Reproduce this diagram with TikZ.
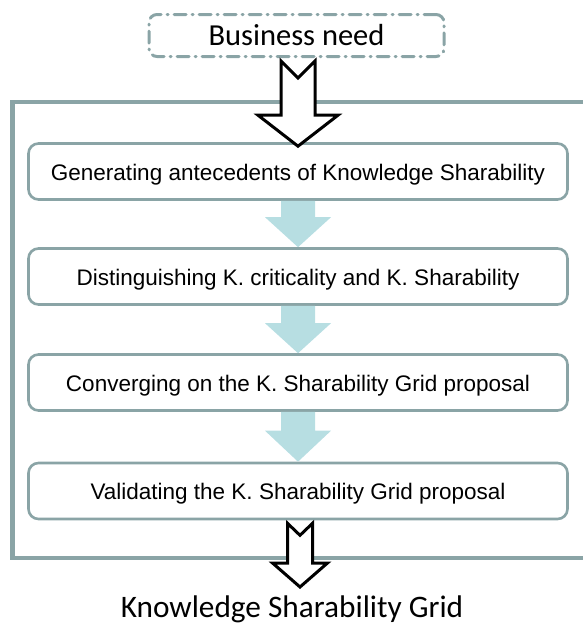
\documentclass[tikz,border=0pt]{standalone}
\usepackage{fontspec}
\setmainfont{Liberation Sans}
\newfontfamily\calibfont{Carlito}
\usetikzlibrary{calc}
\definecolor{framecol}{HTML}{8AA4A6}
\definecolor{flowcol}{HTML}{B7DEE2}
\tikzset{
  stepbox/.style={draw=framecol, line width=2.6pt, fill=white, rounded corners=10pt,
    minimum width=539pt, minimum height=56pt, inner sep=0pt,
    text height=17.7pt, text depth=0pt,
    font=\fontsize{22.5}{27}\selectfont},
  inbox/.style={draw=framecol, line width=3pt, rounded corners=8pt, line cap=round,
    dash pattern=on 12pt off 6pt on 1pt off 6pt,
    minimum width=295pt, minimum height=42pt, inner sep=0pt,
    font=\calibfont\fontsize{30.5}{36}\selectfont},
  outerframe/.style={draw=framecol, line width=4.5pt},
  hollow/.style={draw=black, line width=3pt, fill=white, line join=miter},
  flowarrow/.style={fill=flowcol, draw=none},
  outtext/.style={font=\calibfont\fontsize{31.3}{36}\selectfont, inner sep=0pt}
}
% #1 top point, #2 tip point, #3 shaft half width, #4 head half width, #5 head length, #6 notch depth
\newcommand\hollowarrow[6]{%
  \draw[hollow] ($(#1)+(-#3,0)$) -- ($(#1)+(0,#6)$) -- ($(#1)+(#3,0)$)
    -- ($(#2)+(#3,-#5)$) -- ($(#2)+(#4,-#5)$) -- (#2) -- ($(#2)+(-#4,-#5)$)
    -- ($(#2)+(-#3,-#5)$) -- cycle;}
\newcommand\flowarrow[5]{%
  \fill[flowarrow] ($(#1)+(-#3,0)$) -- ($(#1)+(#3,0)$) -- ($(#2)+(#3,-#5)$)
    -- ($(#2)+(#4,-#5)$) -- (#2) -- ($(#2)+(-#4,-#5)$) -- ($(#2)+(-#3,-#5)$) -- cycle;}
\begin{document}
\begin{tikzpicture}[x=1pt,y=-1pt]
\useasboundingbox (0,0) rectangle (583,624);
\clip (0,0) rectangle (583,624);

% outer frame (extends beyond the right edge)
\draw[outerframe] (12.5,102) rectangle (640,558);

% input
\node[inbox] (bn) at (296.5,35.5) {Business need};

% steps
\node[stepbox] (s1) at (298,171.5) {Generating antecedents of Knowledge Sharability};
\node[stepbox] (s2) at (298,276.5) {Distinguishing K. criticality and K. Sharability};
\node[stepbox] (s3) at (298,382.5) {Converging on the K. Sharability Grid proposal};
\node[stepbox] (s4) at (298,491) {Validating the K. Sharability Grid proposal};

% output
\node[outtext, anchor=base] (out) at (292,617) {Knowledge Sharability Grid};

% flow arrows between steps
\flowarrow{s1.south}{s2.north}{17}{33}{30}
\flowarrow{s2.south}{s3.north}{17}{33}{30}
\flowarrow{s3.south}{s4.north}{17}{33}{31}

% hollow arrows
\coordinate (a1top) at ($(bn.south -| s1.north)+(0,3)$);
\coordinate (a1tip) at ($(s1.north)+(0,4)$);
\hollowarrow{a1top}{a1tip}{17}{40}{31}{17}
\coordinate (a2top) at ($(s4.south)+(2,3)$);
\coordinate (a2tip) at (300,587);
\hollowarrow{a2top}{a2tip}{12.5}{27.5}{24}{12}
\end{tikzpicture}
\end{document}
